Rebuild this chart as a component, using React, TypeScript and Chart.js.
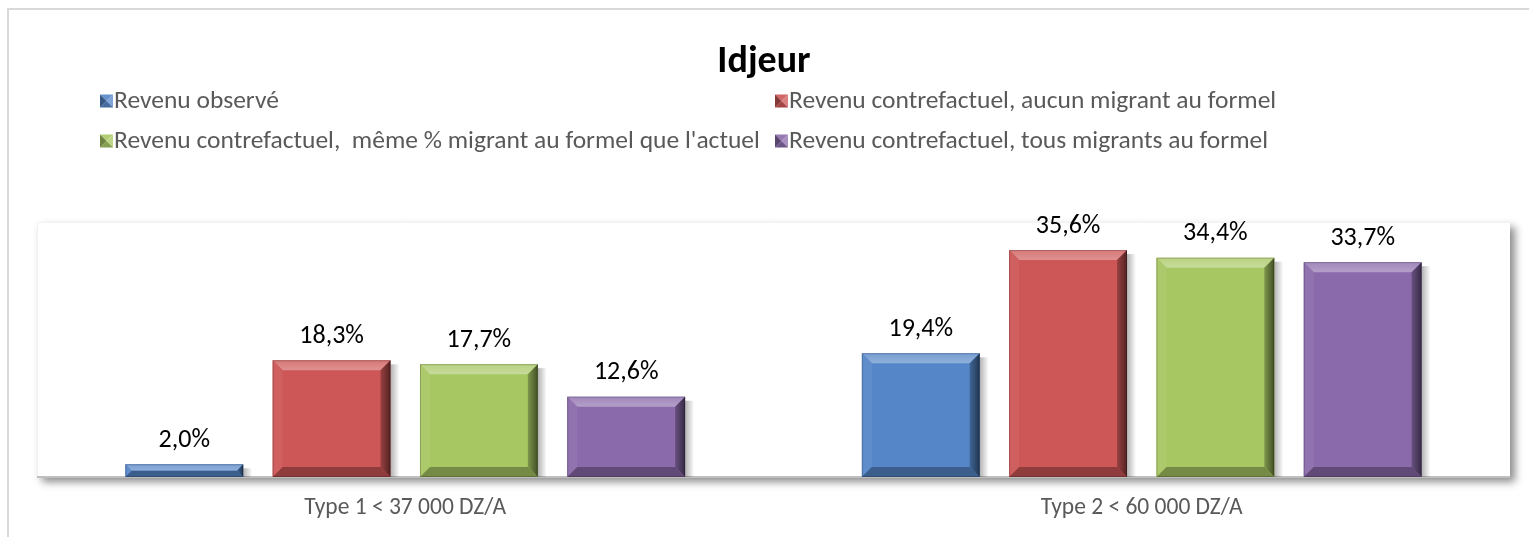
import React, { useEffect, useRef } from "react";
import { Chart, registerables } from "chart.js";

Chart.register(...registerables);

const categories = ["Type 1 < 37 000 DZ/A", "Type 2 < 60 000 DZ/A"];
const seriesNames = [
  "Revenu observé",
  "Revenu contrefactuel, aucun migrant au formel",
  "Revenu contrefactuel,  même % migrant au formel que l'actuel",
  "Revenu contrefactuel, tous migrants au formel",
];
const observe = [2.0, 19.4];
const aucun = [18.3, 35.6];
const meme = [17.7, 34.4];
const tous = [12.6, 33.7];
const yTicks = [0, 40];

const colors = ["#5586C8", "#CD5656", "#A7C762", "#8A6AAB"];
const FONT = "Carlito, Lato, 'Open Sans', sans-serif";

function shade(hex: string, amt: number): string {
  const n = parseInt(hex.slice(1), 16);
  let r = (n >> 16) & 255, g = (n >> 8) & 255, b = n & 255;
  if (amt > 0) {
    r = Math.round(r + (255 - r) * amt);
    g = Math.round(g + (255 - g) * amt);
    b = Math.round(b + (255 - b) * amt);
  } else {
    r = Math.round(r * (1 + amt));
    g = Math.round(g * (1 + amt));
    b = Math.round(b * (1 + amt));
  }
  return `rgb(${r},${g},${b})`;
}

const framePlugin = {
  id: "frame",
  beforeDraw(chart: any) {
    const ctx = chart.ctx;
    ctx.save();
    ctx.fillStyle = "#ffffff";
    ctx.fillRect(0, 0, chart.width, chart.height);
    ctx.strokeStyle = "#d9d9d9";
    ctx.lineWidth = 2;
    ctx.beginPath();
    ctx.moveTo(8, chart.height);
    ctx.lineTo(8, 9);
    ctx.lineTo(chart.width, 9);
    ctx.stroke();
    // title
    ctx.fillStyle = "#000000";
    ctx.font = `bold 38px ${FONT}`;
    ctx.textAlign = "center";
    ctx.textBaseline = "middle";
    ctx.fillText("Idjeur", 764, 62);
    // legend
    const pos = [
      [100, 101],
      [775, 101],
      [100, 141],
      [775, 141],
    ];
    ctx.font = `25.5px ${FONT}`;
    ctx.textAlign = "left";
    seriesNames.forEach((name, i) => {
      const [x, y] = pos[i];
      const s = 13;
      const x0 = x, y0 = y - s / 2;
      const c = colors[i];
      const cx = x0 + s / 2, cy = y0 + s / 2;
      const tri = (pts: number[][], col: string) => {
        ctx.fillStyle = col;
        ctx.beginPath();
        ctx.moveTo(pts[0][0], pts[0][1]);
        ctx.lineTo(pts[1][0], pts[1][1]);
        ctx.lineTo(pts[2][0], pts[2][1]);
        ctx.closePath();
        ctx.fill();
      };
      tri([[x0, y0], [x0 + s, y0], [cx, cy]], shade(c, 0.1));
      tri([[x0, y0], [x0, y0 + s], [cx, cy]], shade(c, -0.35));
      tri([[x0 + s, y0], [x0 + s, y0 + s], [cx, cy]], shade(c, 0.25));
      tri([[x0, y0 + s], [x0 + s, y0 + s], [cx, cy]], shade(c, -0.2));
      ctx.fillStyle = "#595959";
      ctx.fillText(name, x + s + 1, y + 1);
    });
    ctx.restore();
  },
  beforeDatasetsDraw(chart: any) {
    const ctx = chart.ctx;
    const a = chart.chartArea;
    ctx.save();
    // plot area with shadow
    ctx.shadowColor = "rgba(0,0,0,0.45)";
    ctx.shadowBlur = 8;
    ctx.shadowOffsetX = 5;
    ctx.shadowOffsetY = 5;
    ctx.fillStyle = "#ffffff";
    ctx.fillRect(a.left, a.top, a.right - a.left, a.bottom - a.top);
    ctx.shadowColor = "transparent";
    ctx.strokeStyle = "#f2f2f2";
    ctx.lineWidth = 1;
    ctx.beginPath();
    ctx.moveTo(a.left + 0.5, a.bottom);
    ctx.lineTo(a.left + 0.5, a.top + 0.5);
    ctx.lineTo(a.right, a.top + 0.5);
    ctx.stroke();
    ctx.strokeStyle = "#bfbfbf";
    ctx.lineWidth = 2;
    ctx.beginPath();
    ctx.moveTo(a.left, a.bottom);
    ctx.lineTo(a.right, a.bottom);
    ctx.stroke();
    // bar shadows
    chart.data.datasets.forEach((_: any, di: number) => {
      const meta = chart.getDatasetMeta(di);
      meta.data.forEach((bar: any) => {
        const w = bar.width;
        const left = bar.x - w / 2;
        const g = ctx.createLinearGradient(left + w, 0, left + w + 9, 0);
        g.addColorStop(0, "rgba(0,0,0,0.3)");
        g.addColorStop(1, "rgba(0,0,0,0)");
        ctx.fillStyle = g;
        ctx.fillRect(left + w, bar.y + 4, 9, bar.base - bar.y - 4);
      });
    });
    // category labels
    const xs = chart.scales.x;
    ctx.fillStyle = "#595959";
    ctx.font = `23.5px ${FONT}`;
    ctx.textAlign = "center";
    ctx.textBaseline = "middle";
    categories.forEach((c, i) => {
      ctx.fillText(c, xs.getPixelForValue(i), a.bottom + 31);
    });
    ctx.restore();
  },
  afterDatasetsDraw(chart: any) {
    const ctx = chart.ctx;
    ctx.save();
    chart.data.datasets.forEach((ds: any, di: number) => {
      const meta = chart.getDatasetMeta(di);
      const c = colors[di];
      meta.data.forEach((bar: any, i: number) => {
        const w = bar.width;
        const l = bar.x - w / 2;
        const r = bar.x + w / 2;
        const t = bar.y;
        const b = bar.base;
        const h = b - t;
        const e = Math.min(10, h / 2, w / 2);
        const poly = (pts: number[][], col: any) => {
          ctx.fillStyle = col;
          ctx.beginPath();
          ctx.moveTo(pts[0][0], pts[0][1]);
          for (let k = 1; k < pts.length; k++) ctx.lineTo(pts[k][0], pts[k][1]);
          ctx.closePath();
          ctx.fill();
        };
        // top bevel
        const gt = ctx.createLinearGradient(0, t, 0, t + e);
        gt.addColorStop(0, shade(c, 0.2));
        gt.addColorStop(1, shade(c, 0.35));
        poly([[l, t], [r, t], [r - e, t + e], [l + e, t + e]], gt);
        // left bevel
        poly([[l, t], [l + e, t + e], [l + e, b - e], [l, b]], shade(c, 0.06));
        // right bevel
        const gr = ctx.createLinearGradient(r - e, 0, r, 0);
        gr.addColorStop(0, shade(c, -0.25));
        gr.addColorStop(1, shade(c, -0.6));
        poly([[r, t], [r, b], [r - e, b - e], [r - e, t + e]], gr);
        // bottom bevel
        poly([[l, b], [r, b], [r - e, b - e], [l + e, b - e]], shade(c, -0.3));
        ctx.strokeStyle = "rgba(0,0,0,0.2)";
        ctx.lineWidth = 1;
        ctx.strokeRect(l + 0.5, t + 0.5, w - 1, h - 1);
        // value label
        const v = ds.data[i];
        ctx.fillStyle = "#000000";
        ctx.font = `26px ${FONT}`;
        ctx.textAlign = "center";
        ctx.textBaseline = "middle";
        ctx.fillText(v.toFixed(1).replace(".", ",") + "%", bar.x, t - 24);
      });
    });
    ctx.restore();
  },
};

export default function App() {
  const ref = useRef<HTMLCanvasElement | null>(null);
  useEffect(() => {
    if (!ref.current) return;
    const chart = new Chart(ref.current, {
      type: "bar",
      data: {
        labels: categories,
        datasets: [observe, aucun, meme, tous].map((d, i) => ({
          label: seriesNames[i],
          data: d,
          backgroundColor: colors[i],
          borderWidth: 0,
          categoryPercentage: 0.8,
          barPercentage: 0.8,
        })),
      },
      options: {
        animation: false,
        responsive: false,
        maintainAspectRatio: false,
        layout: { padding: { left: 37, right: 19, top: 222, bottom: 60 } },
        plugins: {
          legend: { display: false },
          title: { display: false },
          tooltip: { enabled: false },
        },
        scales: {
          x: { display: false },
          y: { display: false, min: yTicks[0], max: yTicks[1] },
        },
      },
      plugins: [framePlugin],
    });
    return () => chart.destroy();
  }, []);
  return (
    <div style={{ position: "fixed", left: 0, top: 0, width: 1529, height: 537, background: "#fff" }}>
      <canvas ref={ref} width={1529} height={537} style={{ width: 1529, height: 537 }} />
    </div>
  );
}
